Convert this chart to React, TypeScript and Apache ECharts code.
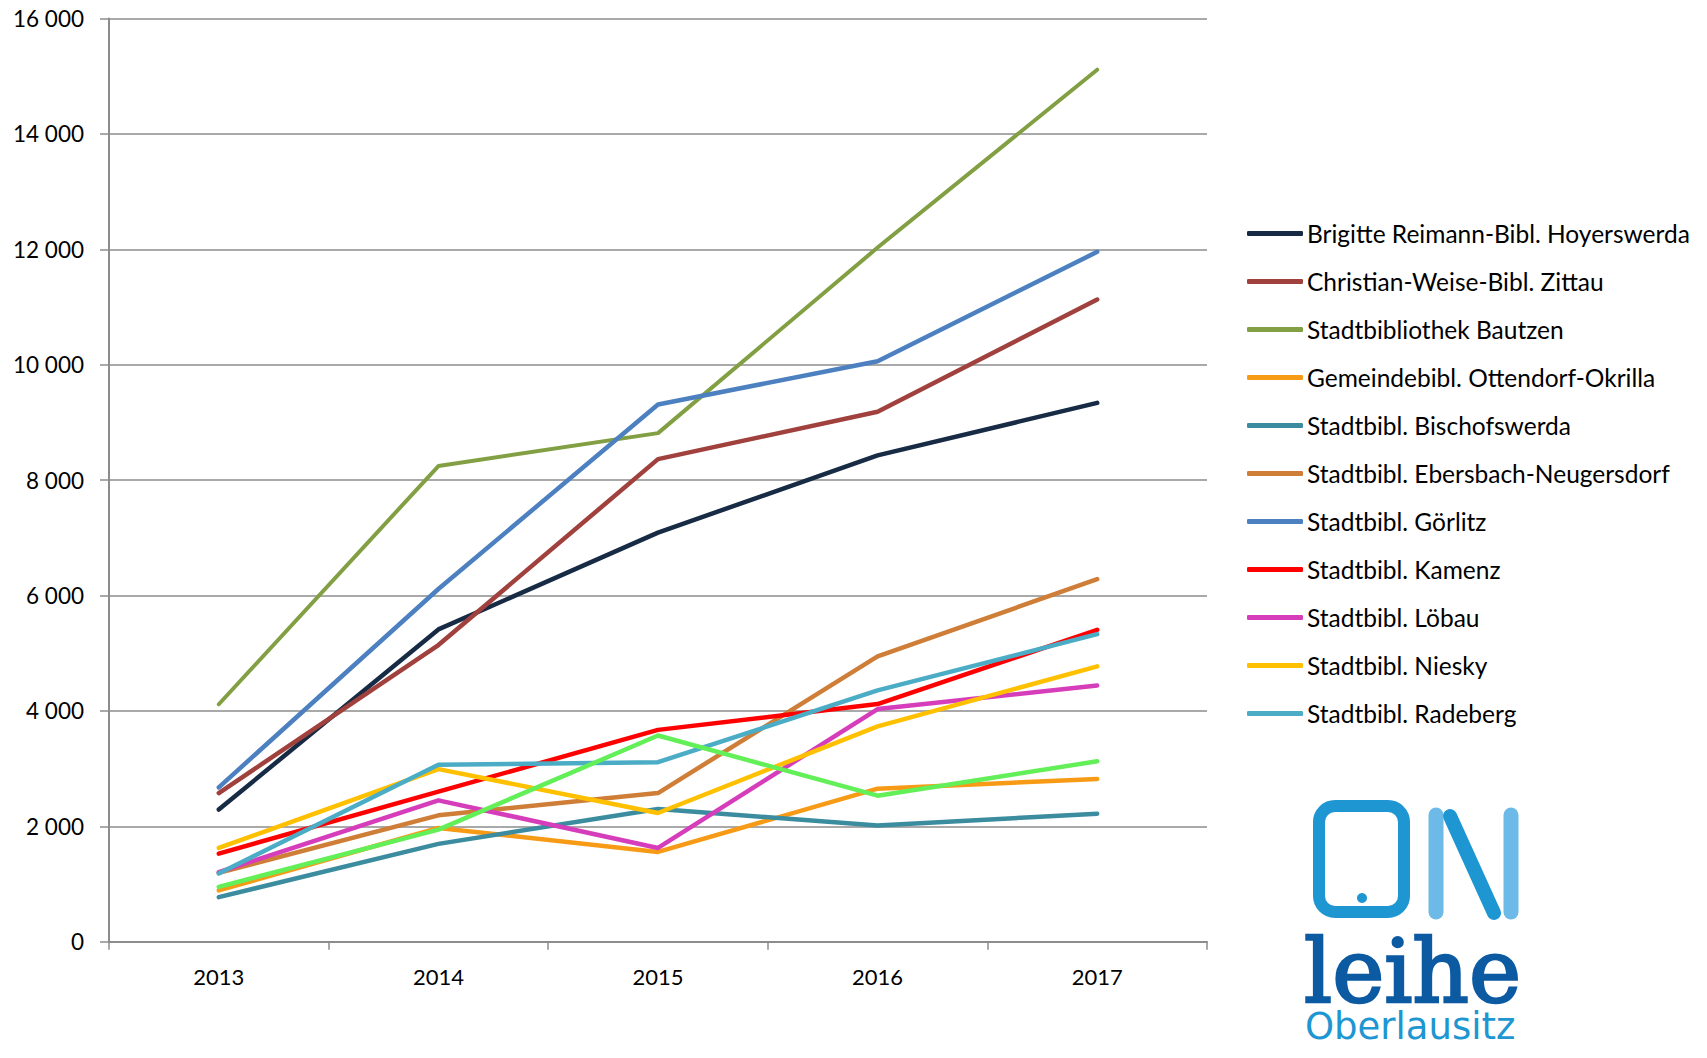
import React, { useEffect, useRef } from "react";
import * as echarts from "echarts";

const years = ["2013", "2014", "2015", "2016", "2017"];

const seriesNames = [
  "Brigitte Reimann-Bibl. Hoyerswerda",
  "Christian-Weise-Bibl. Zittau",
  "Stadtbibliothek Bautzen",
  "Gemeindebibl. Ottendorf-Okrilla",
  "Stadtbibl. Bischofswerda",
  "Stadtbibl. Ebersbach-Neugersdorf",
  "Stadtbibl. Görlitz",
  "Stadtbibl. Kamenz",
  "Stadtbibl. Löbau",
  "Stadtbibl. Niesky",
  "Stadtbibl. Radeberg",
];
const extraName = "Weitere Bibliothek";

const hoyerswerda = [2290, 5412, 7090, 8429, 9338];
const zittau = [2576, 5141, 8363, 9185, 11128];
const bautzen = [4115, 8244, 8814, 12030, 15112];
const ottendorf = [890, 1970, 1556, 2652, 2820];
const bischofswerda = [772, 1695, 2300, 2012, 2219];
const ebersbach = [1193, 2190, 2576, 4944, 6283];
const goerlitz = [2674, 6113, 9311, 10060, 11956];
const kamenz = [1527, 2600, 3671, 4118, 5405];
const loebau = [1205, 2450, 1625, 4032, 4442];
const niesky = [1625, 2991, 2231, 3732, 4771];
const radeberg = [1182, 3066, 3112, 4355, 5330];
const extra = [951, 1942, 3573, 2531, 3126];

const seriesValues = [
  hoyerswerda, zittau, bautzen, ottendorf, bischofswerda, ebersbach,
  goerlitz, kamenz, loebau, niesky, radeberg,
];
const seriesColors = [
  "#172B45", "#A0413D", "#82A043", "#F79B16", "#3A8C9E", "#CF7E38",
  "#4C80C0", "#FF0000", "#D63DBA", "#FFC000", "#4BACC6",
];
const extraColor = "#63EF58";

const yTicks = [0, 2000, 4000, 6000, 8000, 10000, 12000, 14000, 16000];

const fmt = (v: number) => String(v).replace(/\B(?=(\d{3})+(?!\d))/g, " ");

export default function App() {
  const ref = useRef<HTMLDivElement>(null);
  useEffect(() => {
    document.body.style.margin = "0";
    const chart = echarts.init(ref.current!, null, { renderer: "svg" });
    const lineSeries: any[] = seriesNames.map((name, i) => ({
      name,
      type: "line",
      data: seriesValues[i],
      symbol: "none",
      lineStyle: { color: seriesColors[i], width: i === 2 ? 4 : 4.5, cap: "round", join: "round" },
      itemStyle: { color: seriesColors[i] },
    }));
    lineSeries.push({
      name: extraName,
      type: "line",
      data: extra,
      symbol: "none",
      lineStyle: { color: extraColor, width: 4.5, cap: "round", join: "round" },
      itemStyle: { color: extraColor },
    });
    chart.setOption({
      animation: false,
      backgroundColor: "#ffffff",
      grid: { left: 109, right: 500, top: 18.5, bottom: 116.3, containLabel: false },
      legend: {
        data: seriesNames,
        orient: "vertical",
        left: 1247,
        top: 221,
        padding: 0,
        itemWidth: 56,
        itemHeight: 5,
        itemGap: 23,
        icon: "roundRect",
        textStyle: { fontFamily: "Lato", fontSize: 24.5, color: "#000", lineHeight: 24, padding: [0, 0, 0, -1] },
        selectedMode: false,
      },
      xAxis: {
        type: "category",
        data: years,
        boundaryGap: true,
        axisLine: { lineStyle: { color: "#8C8C8C", width: 2 } },
        axisTick: { show: true, length: 8, lineStyle: { color: "#8C8C8C", width: 1.5 } },
        axisLabel: { fontFamily: "Lato", fontSize: 22, color: "#000", margin: 24 },
        splitLine: { show: false },
      },
      yAxis: {
        type: "value",
        min: yTicks[0],
        max: yTicks[yTicks.length - 1],
        interval: 2000,
        axisLine: { show: true, lineStyle: { color: "#8C8C8C", width: 2 } },
        axisTick: { show: true, length: 9, lineStyle: { color: "#8C8C8C", width: 1.5 } },
        axisLabel: { fontFamily: "Lato", fontSize: 22.5, color: "#000", margin: 25, formatter: (v: number) => fmt(v) },
        splitLine: { show: true, lineStyle: { color: "#8C8C8C", width: 1.5 } },
      },
      series: lineSeries,
      graphic: [
        {
          type: "rect",
          shape: { x: 1319, y: 806, width: 85, height: 106, r: 16 },
          style: { fill: "none", stroke: "#1D96D2", lineWidth: 12 },
        },
        { type: "circle", shape: { cx: 1362, cy: 898, r: 5 }, style: { fill: "#1D96D2" } },
        {
          type: "line",
          shape: { x1: 1436, y1: 815, x2: 1436, y2: 912 },
          style: { stroke: "#6DB9E7", lineWidth: 15, lineCap: "round" },
        },
        {
          type: "line",
          shape: { x1: 1511, y1: 815, x2: 1511, y2: 912 },
          style: { stroke: "#6DB9E7", lineWidth: 15, lineCap: "round" },
        },
        {
          type: "line",
          shape: { x1: 1450, y1: 816, x2: 1494, y2: 913 },
          style: { stroke: "#1D96D2", lineWidth: 14, lineCap: "round" },
        },
        {
          type: "text",
          x: 1304,
          y: 971,
          style: {
            text: "leihe",
            fontFamily: "DejaVu Serif",
            fontSize: 88,
            lineHeight: 66,
            fill: "#0C5AA2",
            stroke: "#0C5AA2",
            lineWidth: 2.5,
            textAlign: "left",
            textVerticalAlign: "middle",
          },
        },
        {
          type: "text",
          x: 1305,
          y: 1026,
          style: {
            text: "Oberlausitz",
            fontFamily: "DejaVu Sans",
            fontSize: 37,
            lineHeight: 30,
            fill: "#1D96D2",
            textAlign: "left",
            textVerticalAlign: "middle",
          },
        },
      ],
    });
    return () => chart.dispose();
  }, []);
  return <div ref={ref} style={{ width: 1707, height: 1058 }} />;
}
